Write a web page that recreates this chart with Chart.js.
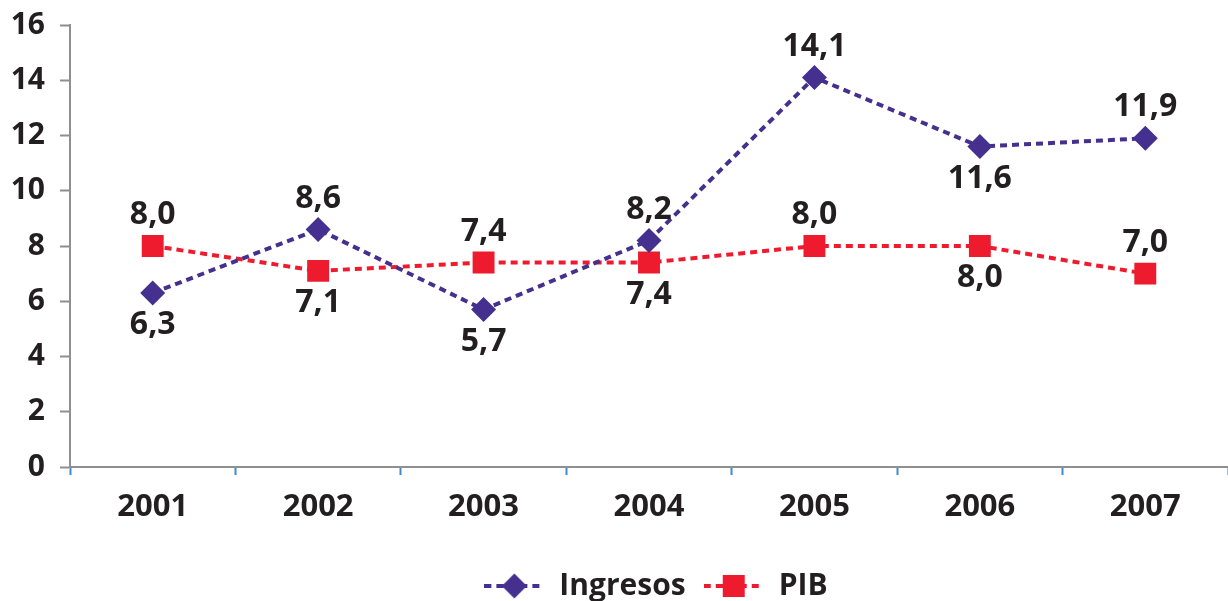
<!DOCTYPE html>
<html>
<head>
<meta charset="utf-8">
<script src="https://cdn.jsdelivr.net/npm/chart.js@4/dist/chart.umd.min.js"></script>
<style>
  html, body { margin: 0; padding: 0; background: #ffffff; }
  #wrap { width: 1228px; height: 601px; }
</style>
</head>
<body>
<div id="wrap"><canvas id="c" width="1228" height="601"></canvas></div>
<script>
// Annual growth (%) of income vs GDP
const years = ['2001', '2002', '2003', '2004', '2005', '2006', '2007'];
const ingresos = [6.3, 8.6, 5.7, 8.2, 14.1, 11.6, 11.9];
const pib = [8.0, 7.1, 7.4, 7.4, 8.0, 8.0, 7.0];
// Where each value label sits relative to its point
const ingresosLabelPos = ['below', 'above', 'below', 'above', 'above', 'below', 'above'];
const pibLabelPos = ['above', 'below', 'above', 'below', 'above', 'below', 'above'];
const yMin = 0, yMax = 16, yStep = 2;

const PURPLE = '#45308f';
const RED = '#ee1b2e';
const TEXT = '#231f20';
const AXIS = '#8f8f8f';
const TICK_BLUE = '#3b8ccb';
const FONT = '"Open Sans", "Noto Sans", sans-serif';

// Legend symbol: dashed line with the marker in the middle
function legendSymbol(color, shape) {
  const cv = document.createElement('canvas');
  cv.width = 60; cv.height = 28;
  const g = cv.getContext('2d');
  g.strokeStyle = color;
  g.lineWidth = 4;
  g.setLineDash([7, 5]);
  g.beginPath();
  g.moveTo(0, 14); g.lineTo(60, 14);
  g.stroke();
  g.fillStyle = color;
  g.beginPath();
  if (shape === 'diamond') {
    g.moveTo(30, 1.5); g.lineTo(42.5, 14); g.lineTo(30, 26.5); g.lineTo(17.5, 14);
    g.closePath();
  } else {
    g.rect(19, 3, 22, 22);
  }
  g.fill();
  return cv;
}
const symbols = [legendSymbol(PURPLE, 'diamond'), legendSymbol(RED, 'square')];

// Value labels with decimal comma
const valueLabels = {
  id: 'valueLabels',
  afterDatasetsDraw(chart) {
    const ctx = chart.ctx;
    ctx.save();
    ctx.font = 'bold 32px ' + FONT;
    ctx.fillStyle = TEXT;
    ctx.textAlign = 'center';
    ctx.textBaseline = 'middle';
    chart.data.datasets.forEach((ds, di) => {
      const meta = chart.getDatasetMeta(di);
      meta.data.forEach((pt, i) => {
        const txt = ds.data[i].toFixed(1).replace('.', ',');
        const dy = ds.labelPos[i] === 'above' ? -31 : 32;
        ctx.fillText(txt, pt.x, pt.y + dy);
      });
    });
    ctx.restore();
  }
};

// Nudge the legend box: centred under the plot area and a little lower
const legendNudge = {
  id: 'legendNudge',
  afterLayout(chart) {
    const lg = chart.legend;
    if (!lg) return;
    lg.left += 42; lg.right += 42;
    lg.top += 10; lg.bottom += 10;
  }
};

new Chart(document.getElementById('c'), {
  type: 'line',
  data: {
    labels: years,
    datasets: [
      {
        label: 'Ingresos',
        data: ingresos,
        labelPos: ingresosLabelPos,
        borderColor: PURPLE,
        backgroundColor: PURPLE,
        borderWidth: 4,
        borderDash: [7, 5],
        pointStyle: 'rectRot',
        pointRadius: 12.5,
        pointBorderWidth: 0,
        pointBackgroundColor: PURPLE,
        tension: 0
      },
      {
        label: 'PIB',
        data: pib,
        labelPos: pibLabelPos,
        borderColor: RED,
        backgroundColor: RED,
        borderWidth: 4,
        borderDash: [7, 5],
        pointStyle: 'rect',
        pointRadius: 15.5,
        pointBorderWidth: 0,
        pointBackgroundColor: RED,
        tension: 0
      }
    ]
  },
  options: {
    responsive: false,
    animation: false,
    devicePixelRatio: 1,
    layout: { autoPadding: false, padding: { top: 0, right: 0, left: 0, bottom: 0 } },
    scales: {
      x: {
        type: 'category',
        offset: true,
        grid: {
          display: true,
          drawOnChartArea: false,
          offset: true,
          tickLength: 8,
          tickWidth: 2,
          color: TICK_BLUE
        },
        border: { color: AXIS, width: 2 },
        ticks: {
          color: TEXT,
          font: { family: FONT, size: 31, weight: 'bold' },
          padding: 14,
          maxRotation: 0
        },
        afterFit(scale) {
          scale.height = 76;
          scale.paddingLeft = 0;
          scale.paddingRight = 0;
        }
      },
      y: {
        min: yMin,
        max: yMax,
        grid: {
          display: true,
          drawOnChartArea: false,
          tickLength: 10,
          tickWidth: 2,
          color: AXIS
        },
        border: { color: AXIS, width: 2 },
        ticks: {
          stepSize: yStep,
          color: TEXT,
          font: { family: FONT, size: 30, weight: 'bold' },
          padding: 15
        },
        afterFit(scale) {
          scale.width = 70;
          scale.paddingTop = 25;
          scale.paddingBottom = 0;
        }
      }
    },
    plugins: {
      tooltip: { enabled: false },
      legend: {
        position: 'bottom',
        labels: {
          usePointStyle: true,
          pointStyleWidth: 60,
          padding: 18,
          color: TEXT,
          font: { family: FONT, size: 30, weight: 'bold' },
          generateLabels(chart) {
            return chart.data.datasets.map((ds, i) => ({
              text: ds.label,
              pointStyle: symbols[i],
              fillStyle: ds.borderColor,
              strokeStyle: ds.borderColor,
              lineWidth: 0,
              hidden: false,
              datasetIndex: i,
              fontColor: TEXT
            }));
          }
        }
      }
    }
  },
  plugins: [valueLabels, legendNudge]
});
</script>
</body>
</html>
